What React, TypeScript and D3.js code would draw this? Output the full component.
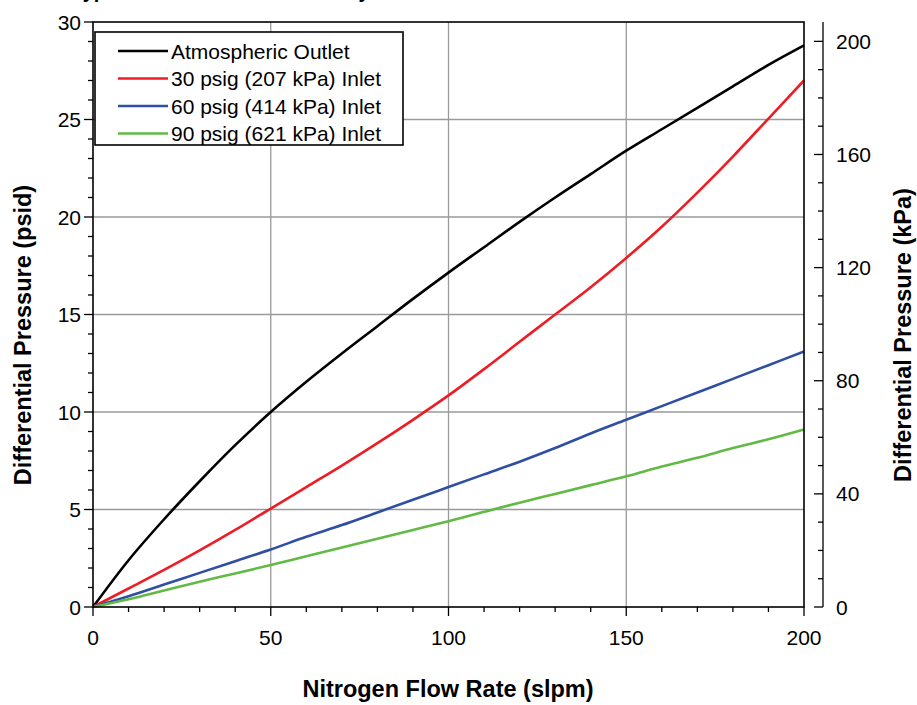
import React from "react";
import * as d3 from "d3";

const flow = [0, 10, 20, 30, 40, 50, 60, 70, 80, 90, 100, 110, 120, 130, 140, 150, 160, 170, 180, 190, 200];
const atmospheric = [0, 2.4, 4.5, 6.45, 8.3, 10.0, 11.55, 13.0, 14.4, 15.8, 17.15, 18.45, 19.75, 21.0, 22.2, 23.4, 24.5, 25.6, 26.7, 27.8, 28.8];
const inlet30 = [0, 0.95, 1.9, 2.9, 3.95, 5.05, 6.15, 7.25, 8.4, 9.6, 10.85, 12.2, 13.6, 15.0, 16.4, 17.9, 19.5, 21.25, 23.1, 25.05, 27.0];
const inlet60 = [0, 0.55, 1.15, 1.75, 2.35, 2.95, 3.6, 4.2, 4.85, 5.5, 6.15, 6.8, 7.45, 8.15, 8.9, 9.6, 10.3, 11.0, 11.7, 12.4, 13.1];
const inlet90 = [0, 0.4, 0.85, 1.3, 1.72, 2.15, 2.6, 3.05, 3.5, 3.95, 4.4, 4.88, 5.35, 5.8, 6.25, 6.7, 7.2, 7.65, 8.15, 8.6, 9.1];

const seriesNames = ["Atmospheric Outlet", "30 psig (207 kPa) Inlet", "60 psig (414 kPa) Inlet", "90 psig (621 kPa) Inlet"];
const seriesColors = ["#000000", "#ee1d25", "#2f4fa2", "#62b946"];
const seriesValues = [atmospheric, inlet30, inlet60, inlet90];

const xTicks = [0, 50, 100, 150, 200];
const yTicks = [0, 5, 10, 15, 20, 25, 30];
const kpaTicks = [0, 40, 80, 120, 160, 200];
const KPA_PER_PSI = 6.894757;

const title = "Typical Differential Pressure by Flow Rate";
const xTitle = "Nitrogen Flow Rate (slpm)";
const yTitle = "Differential Pressure (psid)";
const y2Title = "Differential Pressure (kPa)";

const W = 917, H = 705;
const L = 93, R = 804, T = 22, B = 607;
const font = "'Liberation Sans', Arial, sans-serif";

export default function App() {
  const x = d3.scaleLinear().domain([0, 200]).range([L, R]);
  const y = d3.scaleLinear().domain([0, 30]).range([B, T]);
  const yk = (k: number) => y(k / KPA_PER_PSI);
  const line = d3
    .line<[number, number]>()
    .x((d) => x(d[0]))
    .y((d) => y(d[1]))
    .curve(d3.curveCatmullRom.alpha(0.5));

  const xMinor = d3.range(0, 201, 10);
  const yMinor = d3.range(0, 31, 1);
  const kMinor = d3.range(0, 201, 10);
  const axR = 823;

  return (
    <svg width={W} height={H} style={{ position: "absolute", left: 0, top: 0, background: "#fff" }} fontFamily={font}>
      <rect x={0} y={0} width={W} height={H} fill="#fff" />
      <text x={72} y={-2} fontSize={20} fontWeight="bold">{title}</text>
      {/* grid */}
      {xTicks.slice(1, -1).map((t) => (
        <line key={"gx" + t} x1={x(t)} x2={x(t)} y1={T} y2={B} stroke="#9a9a9a" strokeWidth={1.3} />
      ))}
      {yTicks.slice(1, -1).map((t) => (
        <line key={"gy" + t} x1={L} x2={R} y1={y(t)} y2={y(t)} stroke="#9a9a9a" strokeWidth={1.3} />
      ))}
      {/* series */}
      {seriesValues.map((vals, i) => (
        <path
          key={"s" + i}
          d={line(flow.map((f, j) => [f, vals[j]] as [number, number])) || ""}
          fill="none"
          stroke={seriesColors[i]}
          strokeWidth={2.6}
        />
      ))}
      {/* frame */}
      <rect x={L} y={T} width={R - L} height={B - T} fill="none" stroke="#000" strokeWidth={1.6} />
      {/* left ticks */}
      {yMinor.map((t) => (
        <line key={"ym" + t} x1={L - (t % 5 === 0 ? 9 : 5)} x2={L} y1={y(t)} y2={y(t)} stroke="#000" strokeWidth={1.3} />
      ))}
      {yTicks.map((t) => (
        <text key={"yl" + t} x={81} y={y(t)} dy="0.36em" textAnchor="end" fontSize={21}>{t}</text>
      ))}
      {/* bottom ticks */}
      {xMinor.map((t) => (
        <line key={"xm" + t} x1={x(t)} x2={x(t)} y1={B} y2={B + (t % 50 === 0 ? 9 : 5)} stroke="#000" strokeWidth={1.3} />
      ))}
      {xTicks.map((t) => (
        <text key={"xl" + t} x={x(t)} y={645} textAnchor="middle" fontSize={21}>{t}</text>
      ))}
      {/* right axis */}
      <line x1={axR} x2={axR} y1={T} y2={B} stroke="#000" strokeWidth={1.3} />
      {kMinor.map((t) => (
        <line key={"km" + t} x1={axR - (t % 40 === 0 ? 9 : 5)} x2={axR} y1={yk(t)} y2={yk(t)} stroke="#000" strokeWidth={1.3} />
      ))}
      {kpaTicks.map((t) => (
        <text key={"kl" + t} x={836} y={yk(t)} dy="0.36em" textAnchor="start" fontSize={21}>{t}</text>
      ))}
      {/* axis titles */}
      <text x={448} y={697} textAnchor="middle" fontSize={23.5} fontWeight="bold">{xTitle}</text>
      <text transform={`translate(31,335) rotate(-90)`} textAnchor="middle" fontSize={23.5} fontWeight="bold">{yTitle}</text>
      <text transform={`translate(911,335) rotate(-90)`} textAnchor="middle" fontSize={23.5} fontWeight="bold">{y2Title}</text>
      {/* legend */}
      <rect x={95} y={32} width={308} height={113} fill="#fff" stroke="#000" strokeWidth={1.6} />
      {seriesNames.map((n, i) => (
        <g key={"lg" + i}>
          <line x1={118} x2={168} y1={51 + i * 27.5} y2={51 + i * 27.5} stroke={seriesColors[i]} strokeWidth={2.6} />
          <text x={171} y={51 + i * 27.5} dy="0.36em" fontSize={21}>{n}</text>
        </g>
      ))}
    </svg>
  );
}
